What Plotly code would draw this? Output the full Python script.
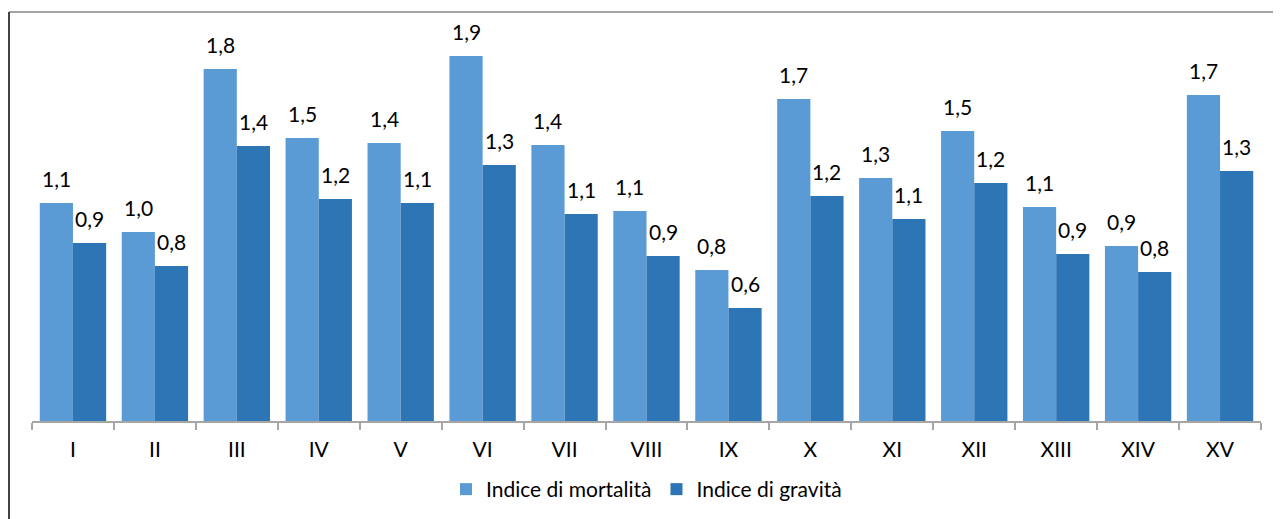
import plotly.graph_objects as go

categories = ["I", "II", "III", "IV", "V", "VI", "VII", "VIII", "IX", "X",
              "XI", "XII", "XIII", "XIV", "XV"]
mortalita = [1.135, 0.984, 1.833, 1.474, 1.448, 1.901, 1.4375, 1.094, 0.786,
             1.677, 1.266, 1.510, 1.115, 0.911, 1.698]
gravita = [0.927, 0.807, 1.432, 1.156, 1.135, 1.333, 1.078, 0.859, 0.589,
           1.172, 1.052, 1.240, 0.870, 0.776, 1.302]
series_names = ["Indice di mortalità", "Indice di gravità"]
colors = ["#5B9BD5", "#2E75B6"]

FONT = "Lato"
FS = 21

fig = go.Figure()
for name, vals, col in zip(series_names, [mortalita, gravita], colors):
    fig.add_trace(go.Bar(
        x=categories, y=vals, name=name,
        marker=dict(color=col, line=dict(width=0)),
    ))

# data labels placed above each bar
bar_half = 16.6
for idx, vals in enumerate([mortalita, gravita]):
    shift = -bar_half if idx == 0 else bar_half
    for c, v in zip(categories, vals):
        fig.add_annotation(
            x=c, y=v, xref="x", yref="y",
            text=f"{v:.1f}".replace(".", ","),
            showarrow=False, xanchor="center", yanchor="bottom",
            xshift=shift, yshift=10,
            font=dict(family=FONT, size=FS, color="#000000"),
        )

# chart frame (top and left edges visible)
fig.add_shape(type="line", xref="paper", yref="paper",
              x0=-0.0187, x1=1.05, y0=1.065, y1=1.065,
              line=dict(color="#868686", width=1.5))
fig.add_shape(type="line", xref="paper", yref="paper",
              x0=-0.0187, x1=-0.0187, y0=1.065, y1=-0.3,
              line=dict(color="#404040", width=2))

fig.update_layout(
    width=1281, height=519,
    margin=dict(l=24, r=28, t=29, b=106),
    paper_bgcolor="white", plot_bgcolor="white",
    barmode="group", bargap=0.19, bargroupgap=0,
    separators=",.",
    font=dict(family=FONT, size=FS, color="#000000"),
    showlegend=True,
    legend=dict(orientation="h", x=0.5, xanchor="center", y=-0.125,
                yanchor="top", font=dict(family=FONT, size=FS),
                itemwidth=30, traceorder="normal"),
    xaxis=dict(showline=True, linecolor="#A6A6A6", linewidth=1.5,
               ticks="outside", tickson="boundaries", ticklen=7,
               tickcolor="#A6A6A6", tickwidth=1.5,
               ticklabelstandoff=9,
               tickfont=dict(family=FONT, size=FS, color="#000000"),
               showgrid=False, fixedrange=True),
    yaxis=dict(range=[0, 2.0], visible=False, showgrid=False,
               zeroline=False, fixedrange=True),
)

fig.write_html("out.html")
